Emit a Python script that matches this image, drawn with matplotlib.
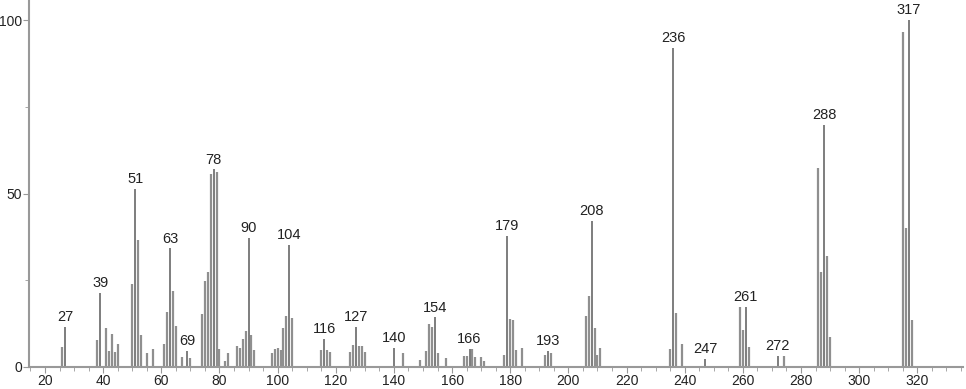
import matplotlib.pyplot as plt
from matplotlib.ticker import MultipleLocator

plt.rcParams['font.family'] = ['Liberation Sans', 'DejaVu Sans']

# m/z values and relative intensities
mz = [26, 27, 38, 39, 41, 42, 43, 44, 45, 50, 51, 52, 53, 55, 57,
      61, 62, 63, 64, 65, 67, 69, 70, 74, 75, 76, 77, 78, 79, 80, 82, 83,
      86, 87, 88, 89, 90, 91, 92, 98, 99, 100, 101, 102, 103, 104, 105,
      115, 116, 117, 118, 125, 126, 127, 128, 129, 130, 140, 143,
      149, 151, 152, 153, 154, 155, 158, 164, 165, 166, 167, 168, 170, 171,
      178, 179, 180, 181, 182, 184, 192, 193, 194,
      206, 207, 208, 209, 210, 211, 235, 236, 237, 239, 247,
      259, 260, 261, 262, 272, 274, 286, 287, 288, 289, 290,
      315, 316, 317, 318]
intensity = [5.7, 11.5, 7.7, 21.3, 11.1, 4.7, 9.5, 4.3, 6.7, 23.9, 51.4, 36.7, 9.2, 4.1, 5.2,
             6.7, 15.8, 34.2, 21.8, 11.7, 3.0, 4.7, 2.7, 15.4, 24.9, 27.4, 55.7, 57.0, 56.2, 5.2, 1.8, 4.0,
             6.1, 5.5, 8.1, 10.4, 37.3, 9.1, 4.9, 4.0, 5.3, 5.5, 5.0, 11.2, 14.8, 35.2, 14.0,
             4.9, 8.1, 5.0, 4.2, 4.2, 6.4, 11.5, 6.1, 6.1, 4.2, 5.6, 4.0,
             2.0, 4.7, 12.3, 11.4, 14.3, 4.0, 2.7, 3.1, 3.3, 5.3, 5.3, 2.8, 2.8, 1.8,
             3.5, 37.7, 13.9, 13.5, 4.9, 5.6, 3.5, 4.6, 4.0,
             14.8, 20.4, 42.2, 11.2, 3.5, 5.6, 5.2, 92.1, 15.6, 6.7, 2.3,
             17.2, 10.6, 17.4, 5.9, 3.2, 3.2, 57.3, 27.3, 69.7, 32.1, 8.6,
             96.7, 40.1, 100.0, 13.6]

# labelled peaks
labels = [27, 39, 51, 63, 69, 78, 90, 104, 116, 127, 140, 154, 166,
          179, 193, 208, 236, 247, 261, 272, 288, 317]

fig = plt.figure(figsize=(9.66, 3.89), dpi=100)
ax = fig.add_axes([29 / 966, 22 / 389, 934 / 966, 367 / 389])

grey = '#8f8f8f'
dark = '#5a5a5a'
peak = dict(zip(mz, intensity))

plain = [m for m in mz if m not in labels]
ax.vlines(plain, 0, [peak[m] for m in plain], color=grey, linewidth=1.6)
ax.vlines(labels, 0, [peak[m] for m in labels], color=dark, linewidth=1.1)

for m in labels:
    ax.annotate(str(m), (m, peak[m]), xytext=(0, 2), textcoords='offset points',
                ha='center', va='bottom', fontsize=10.5, color='#222222')

ax.set_xlim(14.5, 335.7)
ax.set_ylim(0, 105.8)
ax.xaxis.set_major_locator(MultipleLocator(20))
ax.xaxis.set_minor_locator(MultipleLocator(5))
ax.yaxis.set_major_locator(MultipleLocator(50))
ax.yaxis.set_minor_locator(MultipleLocator(25))
ax.set_xticks(range(20, 321, 20))

for side in ['top', 'right']:
    ax.spines[side].set_visible(False)
for side in ['left', 'bottom']:
    ax.spines[side].set_color('#999999')
    ax.spines[side].set_linewidth(1.5)

ax.tick_params(which='both', colors='#999999', labelcolor='#222222', labelsize=10)
ax.tick_params(axis='x', which='major', length=4, pad=1)
ax.tick_params(axis='x', which='minor', length=3)
ax.tick_params(axis='y', which='major', length=4, pad=1)
ax.tick_params(axis='y', which='minor', length=3)

fig.savefig('out.png', dpi=100)
